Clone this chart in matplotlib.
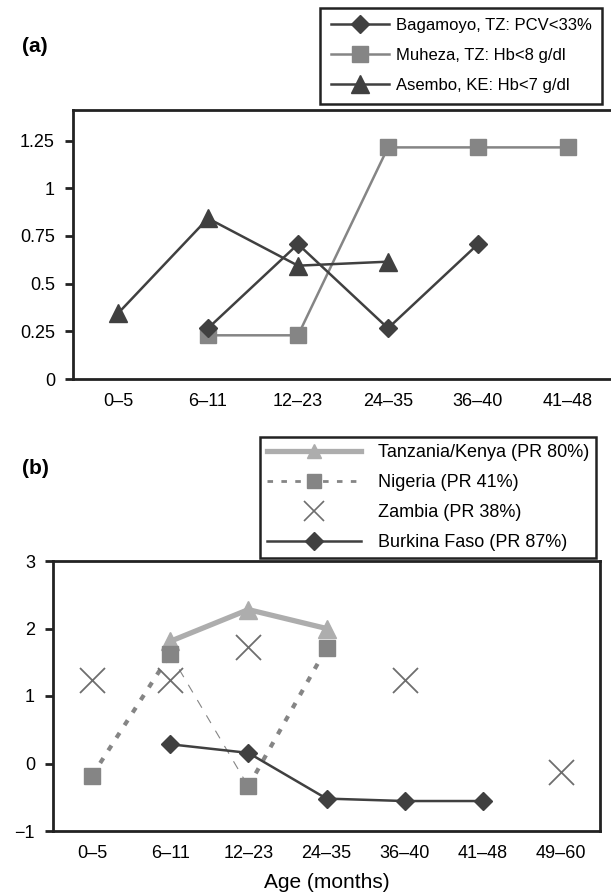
import matplotlib
matplotlib.use("Agg")
import numpy as np
import matplotlib.pyplot as plt
from matplotlib.lines import Line2D

plt.rcParams['font.family'] = ['Liberation Sans', 'DejaVu Sans']

# panel (a)
ages_a = ["0\u20135", "6\u201311", "12\u201323", "24\u201335", "36\u201340", "41\u201348"]
bag_x = [1, 2, 3, 4]
bag_y = [0.266, 0.707, 0.266, 0.707]
muh_x = [1, 2, 3, 4, 5]
muh_y = [0.229, 0.229, 1.214, 1.214, 1.214]
ase_x = [0, 1, 2, 3]
ase_y = [0.344, 0.842, 0.594, 0.615]
yticks_a = [0, 0.25, 0.5, 0.75, 1, 1.25]
ylabels_a = ["0", "0.25", "0.5", "0.75", "1", "1.25"]

# panel (b)
ages_b = ["0\u20135", "6\u201311", "12\u201323", "24\u201335", "36\u201340", "41\u201348", "49\u201360"]
tzk_x = [1, 2, 3]
tzk_y = [1.81, 2.28, 2.0]
nig_x = [0, 1, 2, 3]
nig_y = [-0.18, 1.62, -0.34, 1.71]
zam_x = [0, 1, 2, 4, 6]
zam_y = [1.24, 1.24, 1.72, 1.24, -0.12]
bur_x = [1, 2, 3, 4, 5]
bur_y = [0.285, 0.157, -0.52, -0.556, -0.556]
yticks_b = [-1, 0, 1, 2, 3]
ylabels_b = ["\u22121", "0", "1", "2", "3"]

dark = "#404040"
mid = "#858585"
light = "#adadad"

fig = plt.figure(figsize=(6.11, 8.96), dpi=100)

def style_axes(ax):
    for s in ax.spines.values():
        s.set_linewidth(2.0)
        s.set_color("#222222")
    ax.tick_params(axis="y", length=6, width=2.0, pad=7, labelsize=13, color="#222222")
    ax.tick_params(axis="x", length=0, pad=10, labelsize=13)

# ---- (a)
ax1 = fig.add_axes([73/611, 1-379/896, 540/611, 269/896])
ax1.plot(bag_x, bag_y, color=dark, lw=1.8, marker="D", ms=9, zorder=3,
         label="Bagamoyo, TZ: PCV<33%")
ax1.plot(muh_x, muh_y, color=mid, lw=1.8, marker="s", ms=11, zorder=2,
         label="Muheza, TZ: Hb<8 g/dl")
ax1.plot(ase_x, ase_y, color=dark, lw=1.8, marker="^", ms=13, zorder=3,
         label="Asembo, KE: Hb<7 g/dl")
ax1.set_xlim(-0.5, 5.5)
ax1.set_ylim(0, 1.41)
ax1.set_xticks(range(len(ages_a)))
ax1.set_xticklabels(ages_a)
ax1.set_yticks(yticks_a)
ax1.set_yticklabels(ylabels_a)
style_axes(ax1)
leg1 = ax1.legend(loc="upper right", bbox_to_anchor=(602/611, 1-8/896),
                  bbox_transform=fig.transFigure, fontsize=12, handlelength=3.5,
                  handletextpad=0.4, labelspacing=0.9, borderpad=0.62,
                  borderaxespad=0, fancybox=False, framealpha=1, edgecolor="#222222")
leg1.get_frame().set_linewidth(1.8)
fig.text(22/611, 1-47/896, "(a)", fontsize=15, fontweight="bold", va="center")

# ---- (b)
ax2 = fig.add_axes([53/611, 1-831/896, 547/611, 270/896])
ax2.plot(tzk_x, tzk_y, color=light, lw=3.8, marker="^", ms=13, zorder=2)
ax2.plot(nig_x[:2], nig_y[:2], color=mid, lw=3, ls=(0, (1.4, 2.2)),
         marker="s", ms=12, zorder=3)
ax2.plot(nig_x[2:], nig_y[2:], color=mid, lw=3, ls=(0, (1.4, 2.2)),
         marker="s", ms=12, zorder=3)
ax2.plot(nig_x[1:3], nig_y[1:3], color=mid, lw=0.8, ls=(0, (8, 8)), zorder=3)
ax2.plot(zam_x, zam_y, ls="none", marker="x", ms=18, mew=1.3,
         color="#6e6e6e", zorder=4)
ax2.plot(bur_x, bur_y, color=dark, lw=1.8, marker="D", ms=9, zorder=5)
ax2.set_xlim(-0.5, 6.5)
ax2.set_ylim(-1, 3)
ax2.set_xticks(range(len(ages_b)))
ax2.set_xticklabels(ages_b)
ax2.set_yticks(yticks_b)
ax2.set_yticklabels(ylabels_b)
ax2.set_xlabel("Age (months)", fontsize=15, labelpad=8)
style_axes(ax2)
h_tzk = Line2D([], [], color=light, lw=3.8, marker="^", ms=10)
h_nig = Line2D([], [], color=mid, lw=2, ls=(0, (2, 3)), marker="s", ms=10)
h_zam = Line2D([], [], ls="none", marker="x", ms=14, mew=1.2, color="#6e6e6e")
h_bur = Line2D([], [], color=dark, lw=1.8, marker="D", ms=9)
leg2 = ax2.legend([h_tzk, h_nig, h_zam, h_bur],
                  ["Tanzania/Kenya (PR 80%)", "Nigeria (PR 41%)",
                   "Zambia (PR 38%)", "Burkina Faso (PR 87%)"],
                  loc="upper right", bbox_to_anchor=(596/611, 1-437/896),
                  bbox_transform=fig.transFigure, fontsize=13, handlelength=5.2,
                  handletextpad=0.9, labelspacing=0.72, borderpad=0.4,
                  borderaxespad=0, fancybox=False, framealpha=1, edgecolor="#222222")
leg2.get_frame().set_linewidth(1.8)
fig.text(22/611, 1-468/896, "(b)", fontsize=15, fontweight="bold", va="center")

plt.savefig("out.png", dpi=100)
